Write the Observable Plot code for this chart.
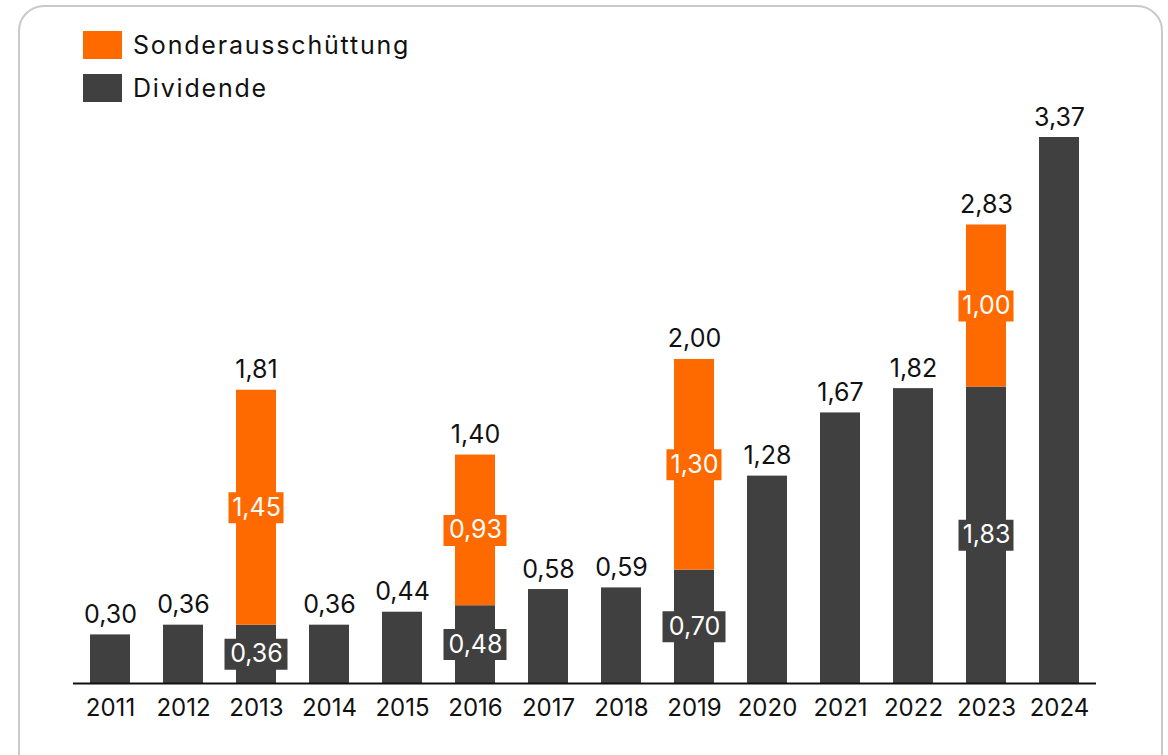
<!DOCTYPE html>
<html>
<head>
<meta charset="utf-8">
<script src="https://cdn.jsdelivr.net/npm/d3@7"></script>
<script src="https://cdn.jsdelivr.net/npm/@observablehq/plot@0.6"></script>
<style>
  html, body { margin: 0; padding: 0; background: #fff; width: 1168px; height: 755px; overflow: hidden; }
  body { font-family: Inter, "Noto Sans", sans-serif; position: relative; }
  #card { position: absolute; left: 18px; top: 5px; width: 1145px; height: 800px; border: 2px solid #c9c9c9; border-radius: 26px; box-sizing: border-box; }
  #legend { position: absolute; left: 83px; top: 31px; }
  .item { display: flex; align-items: center; height: 28px; margin-bottom: 15px; font-size: 25px; letter-spacing: 1.8px; color: #111; }
  .sw { width: 39px; height: 28px; margin-right: 11px; }
  #chart { position: absolute; left: 0; top: 0; }
</style>
</head>
<body>
<div id="card"></div>
<div id="legend"></div>
<div id="chart"></div>
<script>
const years = ["2011","2012","2013","2014","2015","2016","2017","2018","2019","2020","2021","2022","2023","2024"];
const dividende = [0.30, 0.36, 0.36, 0.36, 0.44, 0.48, 0.58, 0.59, 0.70, 1.28, 1.67, 1.82, 1.83, 3.37];
const sonder    = [0, 0, 1.45, 0, 0, 0.93, 0, 0, 1.30, 0, 0, 0, 1.00, 0];
const totals    = [0.30, 0.36, 1.81, 0.36, 0.44, 1.40, 0.58, 0.59, 2.00, 1.28, 1.67, 1.82, 2.83, 3.37];
const seriesNames = ["Dividende", "Sonderausschüttung"];
const seriesColors = ["#404040", "#ff6a00"];

const fmt = v => v.toFixed(2).replace(".", ",");

// legend
const legend = document.getElementById("legend");
[1, 0].forEach(i => {
  const d = document.createElement("div");
  d.className = "item";
  d.innerHTML = `<div class="sw" style="background:${seriesColors[i]}"></div><span>${seriesNames[i]}</span>`;
  legend.appendChild(d);
});

const rows = [];
years.forEach((y, i) => {
  rows.push({year: y, series: "Dividende", value: dividende[i], y1: 0, y2: dividende[i]});
  if (sonder[i] > 0) rows.push({year: y, series: "Sonderausschüttung", value: sonder[i], y1: dividende[i], y2: dividende[i] + sonder[i]});
});
const stacked = years.filter((y, i) => sonder[i] > 0);
const inner = rows.filter(r => stacked.includes(r.year)).map(r => ({...r, mid: (r.y1 + r.y2) / 2, label: fmt(r.value)}));
const innerNarrow = inner.filter(r => r.label.startsWith("1"));
const innerWide = inner.filter(r => !r.label.startsWith("1"));
const tops = years.map((y, i) => ({year: y, total: totals[i], top: dividende[i] + sonder[i], label: fmt(totals[i])}));

const chart = Plot.plot({
  width: 1168,
  height: 755,
  marginLeft: 73,
  marginRight: 72,
  marginTop: 137,
  marginBottom: 72,
  style: {fontFamily: "Inter, 'Noto Sans', sans-serif", background: "transparent", fontSize: "24px", color: "#111"},
  x: {domain: years, paddingInner: 0.45, paddingOuter: 0.225, label: null, tickSize: 0, tickPadding: 15},
  y: {domain: [0, 3.37], axis: null},
  color: {domain: seriesNames, range: seriesColors},
  marks: [
    Plot.barY(rows, {x: "year", y1: "y1", y2: "y2", fill: "series"}),
    Plot.tickY(innerWide, {x: "year", y: "mid", stroke: "series", strokeWidth: 31, insetLeft: -11.5, insetRight: -11.5}),
    Plot.tickY(innerNarrow, {x: "year", y: "mid", stroke: "series", strokeWidth: 31, insetLeft: -7.5, insetRight: -7.5}),
    Plot.ruleY([0], {stroke: "#111", strokeWidth: 2}),
    Plot.text(tops, {x: "year", y: "top", text: "label", dy: -20, fill: "#111", fontSize: 25}),
    Plot.text(inner, {x: "year", y: "mid", text: "label", fill: "#fff", fontSize: 25})
  ]
});
document.getElementById("chart").appendChild(chart);
</script>
</body>
</html>
